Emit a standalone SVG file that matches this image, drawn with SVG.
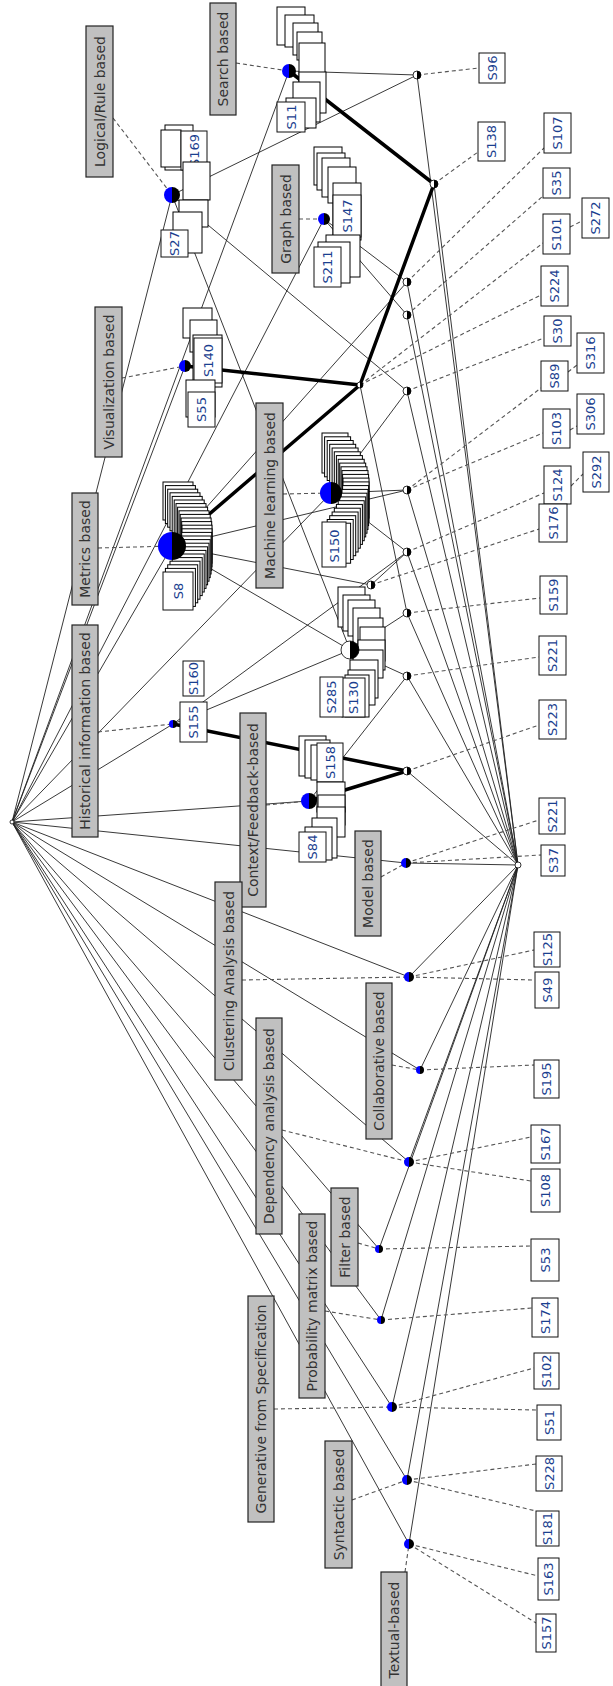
<svg xmlns="http://www.w3.org/2000/svg" width="613" height="1686" viewBox="0 0 613 1686">
<style>
.e{stroke:#222;stroke-width:.9;fill:none}
.k{stroke:#000;stroke-width:3.5;fill:none;stroke-linecap:round}
.d{stroke:#555;stroke-width:1.1;stroke-dasharray:4 3;fill:none}
.lb{fill:#c0c0c0;stroke:#222;stroke-width:1.2}
.lt{font-family:"DejaVu Sans",Verdana,sans-serif;font-size:14px;fill:#333;text-anchor:middle;dominant-baseline:central}
.ob{fill:#fff;stroke:#111;stroke-width:1}
.ot{font-family:"DejaVu Sans",sans-serif;font-size:13px;fill:#1b3f8f;text-anchor:middle;dominant-baseline:central}
.c{fill:#fff;stroke:#000;stroke-width:1}
.bl{fill:#0000ff}
.bk{fill:#000}
.wh{fill:#fff}
.ol{fill:none;stroke:#000;stroke-width:.8}
</style>
<g id="connectors">
<g id="edges-thin">
<line class="e" x1="12" y1="822" x2="289" y2="71"/>
<line class="e" x1="12" y1="822" x2="172" y2="195"/>
<line class="e" x1="12" y1="822" x2="324" y2="219"/>
<line class="e" x1="12" y1="822" x2="185" y2="366"/>
<line class="e" x1="12" y1="822" x2="172" y2="546"/>
<line class="e" x1="12" y1="822" x2="331" y2="493"/>
<line class="e" x1="12" y1="822" x2="173" y2="724"/>
<line class="e" x1="12" y1="822" x2="309" y2="801"/>
<line class="e" x1="12" y1="822" x2="406" y2="863"/>
<line class="e" x1="12" y1="822" x2="409" y2="977"/>
<line class="e" x1="12" y1="822" x2="420" y2="1070"/>
<line class="e" x1="12" y1="822" x2="409" y2="1162"/>
<line class="e" x1="12" y1="822" x2="379" y2="1249"/>
<line class="e" x1="12" y1="822" x2="381" y2="1320"/>
<line class="e" x1="12" y1="822" x2="392" y2="1407"/>
<line class="e" x1="12" y1="822" x2="407" y2="1480"/>
<line class="e" x1="12" y1="822" x2="409" y2="1544"/>
<line class="e" x1="289" y1="71" x2="417" y2="75"/>
<line class="e" x1="172" y1="195" x2="417" y2="75"/>
<line class="e" x1="172" y1="195" x2="407" y2="391"/>
<line class="e" x1="172" y1="195" x2="350" y2="650"/>
<line class="e" x1="324" y1="219" x2="407" y2="282"/>
<line class="e" x1="324" y1="219" x2="407" y2="315"/>
<line class="e" x1="172" y1="546" x2="407" y2="282"/>
<line class="e" x1="172" y1="546" x2="407" y2="490"/>
<line class="e" x1="172" y1="546" x2="371" y2="585"/>
<line class="e" x1="172" y1="546" x2="350" y2="650"/>
<line class="e" x1="331" y1="493" x2="407" y2="391"/>
<line class="e" x1="331" y1="493" x2="407" y2="490"/>
<line class="e" x1="331" y1="493" x2="407" y2="552"/>
<line class="e" x1="173" y1="724" x2="407" y2="552"/>
<line class="e" x1="173" y1="724" x2="350" y2="650"/>
<line class="e" x1="309" y1="801" x2="407" y2="676"/>
<line class="e" x1="350" y1="650" x2="407" y2="613"/>
<line class="e" x1="350" y1="650" x2="407" y2="676"/>
<line class="e" x1="360" y1="385" x2="407" y2="613"/>
<line class="e" x1="371" y1="585" x2="407" y2="552"/>
<line class="e" x1="417" y1="75" x2="518" y2="865"/>
<line class="e" x1="434" y1="184" x2="518" y2="865"/>
<line class="e" x1="407" y1="282" x2="518" y2="865"/>
<line class="e" x1="407" y1="315" x2="518" y2="865"/>
<line class="e" x1="407" y1="391" x2="518" y2="865"/>
<line class="e" x1="407" y1="490" x2="518" y2="865"/>
<line class="e" x1="407" y1="552" x2="518" y2="865"/>
<line class="e" x1="407" y1="613" x2="518" y2="865"/>
<line class="e" x1="407" y1="676" x2="518" y2="865"/>
<line class="e" x1="407" y1="771" x2="518" y2="865"/>
<line class="e" x1="406" y1="863" x2="518" y2="865"/>
<line class="e" x1="409" y1="977" x2="518" y2="865"/>
<line class="e" x1="420" y1="1070" x2="518" y2="865"/>
<line class="e" x1="409" y1="1162" x2="518" y2="865"/>
<line class="e" x1="379" y1="1249" x2="518" y2="865"/>
<line class="e" x1="381" y1="1320" x2="518" y2="865"/>
<line class="e" x1="392" y1="1407" x2="518" y2="865"/>
<line class="e" x1="407" y1="1480" x2="518" y2="865"/>
<line class="e" x1="409" y1="1544" x2="518" y2="865"/>
</g>
<g id="edges-thick">
<line class="k" x1="289" y1="71" x2="434" y2="184"/>
<line class="k" x1="434" y1="184" x2="360" y2="385"/>
<line class="k" x1="185" y1="366" x2="360" y2="385"/>
<line class="k" x1="172" y1="546" x2="360" y2="385"/>
<line class="k" x1="173" y1="724" x2="407" y2="771"/>
<line class="k" x1="309" y1="801" x2="407" y2="771"/>
</g>
<g id="edges-dashed">
<line class="d" x1="236" y1="63" x2="289" y2="71"/>
<line class="d" x1="113" y1="118" x2="172" y2="195"/>
<line class="d" x1="299" y1="219" x2="324" y2="219"/>
<line class="d" x1="122" y1="378" x2="185" y2="366"/>
<line class="d" x1="98" y1="548" x2="172" y2="546"/>
<line class="d" x1="283" y1="494" x2="331" y2="493"/>
<line class="d" x1="98" y1="732" x2="173" y2="724"/>
<line class="d" x1="266" y1="805" x2="309" y2="801"/>
<line class="d" x1="381" y1="877" x2="406" y2="863"/>
<line class="d" x1="242" y1="980" x2="409" y2="977"/>
<line class="d" x1="392" y1="1065" x2="420" y2="1070"/>
<line class="d" x1="282" y1="1130" x2="409" y2="1162"/>
<line class="d" x1="358" y1="1243" x2="379" y2="1249"/>
<line class="d" x1="325" y1="1311" x2="381" y2="1320"/>
<line class="d" x1="274" y1="1409" x2="392" y2="1407"/>
<line class="d" x1="352" y1="1500" x2="407" y2="1480"/>
<line class="d" x1="405" y1="1572" x2="409" y2="1544"/>
<line class="d" x1="417" y1="75" x2="479" y2="68"/>
<line class="d" x1="434" y1="184" x2="478" y2="152"/>
<line class="d" x1="407" y1="282" x2="544" y2="148"/>
<line class="d" x1="407" y1="315" x2="543" y2="196"/>
<line class="d" x1="360" y1="385" x2="543" y2="243"/>
<line class="d" x1="360" y1="385" x2="541" y2="295"/>
<line class="d" x1="570" y1="227" x2="582" y2="221"/>
<line class="d" x1="407" y1="391" x2="544" y2="338"/>
<line class="d" x1="407" y1="490" x2="541" y2="388"/>
<line class="d" x1="407" y1="490" x2="543" y2="433"/>
<line class="d" x1="568" y1="372" x2="577" y2="365"/>
<line class="d" x1="570" y1="430" x2="577" y2="426"/>
<line class="d" x1="407" y1="552" x2="544" y2="493"/>
<line class="d" x1="571" y1="486" x2="583" y2="474"/>
<line class="d" x1="371" y1="585" x2="539" y2="529"/>
<line class="d" x1="407" y1="613" x2="540" y2="598"/>
<line class="d" x1="407" y1="676" x2="539" y2="657"/>
<line class="d" x1="407" y1="771" x2="539" y2="725"/>
<line class="d" x1="406" y1="863" x2="539" y2="820"/>
<line class="d" x1="406" y1="863" x2="541" y2="855"/>
<line class="d" x1="409" y1="977" x2="534" y2="950"/>
<line class="d" x1="409" y1="977" x2="535" y2="980"/>
<line class="d" x1="420" y1="1070" x2="534" y2="1065"/>
<line class="d" x1="409" y1="1162" x2="531" y2="1137"/>
<line class="d" x1="409" y1="1162" x2="531" y2="1181"/>
<line class="d" x1="379" y1="1249" x2="531" y2="1246"/>
<line class="d" x1="381" y1="1320" x2="532" y2="1308"/>
<line class="d" x1="392" y1="1407" x2="534" y2="1368"/>
<line class="d" x1="392" y1="1407" x2="537" y2="1410"/>
<line class="d" x1="407" y1="1480" x2="536" y2="1464"/>
<line class="d" x1="407" y1="1480" x2="536" y2="1511"/>
<line class="d" x1="409" y1="1544" x2="538" y2="1576"/>
<line class="d" x1="409" y1="1544" x2="536" y2="1623"/>
</g>
</g>

<g id="n-top"><circle class="wh" cx="12" cy="822" r="2"/><circle class="ol" cx="12" cy="822" r="2"/></g>
<g id="n-bottom"><circle class="wh" cx="518" cy="865" r="3"/><circle class="ol" cx="518" cy="865" r="3"/></g>

<g id="n-search">
<rect class="c" x="277" y="7" width="28" height="38"/>
<rect class="c" x="285" y="15" width="29" height="32"/>
<rect class="c" x="293" y="23" width="25" height="32"/>
<rect class="c" x="297" y="32" width="25" height="28"/>
<rect class="c" x="299" y="43" width="26" height="40"/>
<rect class="c" x="299" y="72" width="27" height="41"/>
<rect class="c" x="293" y="82" width="27" height="40"/>
<rect class="c" x="286" y="98" width="30" height="30"/>
<rect class="ob" x="277" y="102" width="28" height="30"/>
<text class="ot" transform="translate(291 117) rotate(-90)">S11</text>
<path class="bl" d="M289 64A7 7 0 0 0 289 78Z"/><path class="bk" d="M289 64A7 7 0 0 1 289 78Z"/>
<rect class="lb" x="210" y="3" width="26" height="112"/>
<text class="lt" transform="translate(223 59) rotate(-90)">Search based</text>
</g>

<g id="n-logical">
<rect class="c" x="165" y="125" width="28" height="45"/>
<rect class="c" x="161" y="130" width="20" height="37"/>
<rect class="ob" x="181" y="131" width="26" height="39"/>
<text class="ot" transform="translate(194 150.5) rotate(-90)">S169</text>
<rect class="c" x="183" y="162" width="27" height="38"/>
<rect class="c" x="179" y="200" width="29" height="27"/>
<rect class="c" x="173" y="212" width="29" height="41"/>
<rect class="ob" x="161" y="230" width="27" height="27"/>
<text class="ot" transform="translate(174.5 243.5) rotate(-90)">S27</text>
<path class="bl" d="M172 187A8 8 0 0 0 172 203Z"/><path class="bk" d="M172 187A8 8 0 0 1 172 203Z"/>
<rect class="lb" x="86" y="26" width="27" height="151"/>
<text class="lt" transform="translate(99.5 101.5) rotate(-90)">Logical/Rule based</text>
</g>

<g id="n-graph">
<rect class="c" x="314" y="147" width="28" height="38"/>
<rect class="c" x="317" y="153" width="28" height="37"/>
<rect class="c" x="322" y="158" width="28" height="39"/>
<rect class="c" x="328" y="167" width="28" height="36"/>
<rect class="c" x="333" y="183" width="28" height="57"/>
<rect class="ob" x="333" y="195" width="28" height="42"/>
<text class="ot" transform="translate(347 216) rotate(-90)">S147</text>
<rect class="c" x="326" y="235" width="34" height="42"/>
<rect class="c" x="318" y="242" width="32" height="41"/>
<rect class="ob" x="314" y="247" width="27" height="40"/>
<text class="ot" transform="translate(327.5 267) rotate(-90)">S211</text>
<path class="bl" d="M324 213A6 6 0 0 0 324 225Z"/><path class="bk" d="M324 213A6 6 0 0 1 324 225Z"/>
<rect class="lb" x="272" y="165" width="27" height="108"/>
<text class="lt" transform="translate(285.5 219) rotate(-90)">Graph based</text>
</g>

<g id="n-visualization">
<rect class="c" x="183" y="308" width="29" height="30"/>
<rect class="c" x="190" y="320" width="27" height="32"/>
<rect class="c" x="193" y="335" width="29" height="52"/>
<rect class="ob" x="194" y="338" width="28" height="45"/>
<text class="ot" transform="translate(208 360.5) rotate(-90)">S140</text>
<rect class="c" x="186" y="380" width="29" height="37"/>
<rect class="ob" x="188" y="392" width="27" height="35"/>
<text class="ot" transform="translate(201.5 409.5) rotate(-90)">S55</text>
<path class="bl" d="M185 360A6 6 0 0 0 185 372Z"/><path class="bk" d="M185 360A6 6 0 0 1 185 372Z"/>
<rect class="lb" x="95" y="307" width="27" height="150"/>
<text class="lt" transform="translate(108.5 382) rotate(-90)">Visualization based</text>
</g>

<g id="n-metrics">
<rect class="c" x="163" y="482" width="30" height="38"/>
<rect class="c" x="165.4" y="485.6" width="30" height="38"/>
<rect class="c" x="167.7" y="489.2" width="30" height="38"/>
<rect class="c" x="170" y="492.8" width="30" height="38"/>
<rect class="c" x="172.2" y="496.4" width="30" height="38"/>
<rect class="c" x="174.2" y="500" width="30" height="38"/>
<rect class="c" x="176" y="503.6" width="30" height="38"/>
<rect class="c" x="177.6" y="507.2" width="30" height="38"/>
<rect class="c" x="179" y="510.8" width="30" height="38"/>
<rect class="c" x="180.2" y="514.4" width="30" height="38"/>
<rect class="c" x="181.1" y="518" width="30" height="38"/>
<rect class="c" x="181.7" y="521.6" width="30" height="38"/>
<rect class="c" x="182" y="525.2" width="30" height="38"/>
<rect class="c" x="182" y="528.8" width="30" height="38"/>
<rect class="c" x="181.7" y="532.4" width="30" height="38"/>
<rect class="c" x="181.1" y="536" width="30" height="38"/>
<rect class="c" x="180.2" y="539.6" width="30" height="38"/>
<rect class="c" x="179" y="543.2" width="30" height="38"/>
<rect class="c" x="177.6" y="546.8" width="30" height="38"/>
<rect class="c" x="176" y="550.4" width="30" height="38"/>
<rect class="c" x="174.2" y="554" width="30" height="38"/>
<rect class="c" x="172.2" y="557.6" width="30" height="38"/>
<rect class="c" x="170" y="561.2" width="30" height="38"/>
<rect class="c" x="167.7" y="564.8" width="30" height="38"/>
<rect class="c" x="165.4" y="568.4" width="30" height="38"/>
<rect class="ob" x="163" y="572" width="30" height="38"/>
<text class="ot" transform="translate(178 591) rotate(-90)">S8</text>
<path class="bl" d="M172 532A14 14 0 0 0 172 560Z"/><path class="bk" d="M172 532A14 14 0 0 1 172 560Z"/>
<rect class="lb" x="72" y="493" width="26" height="112"/>
<text class="lt" transform="translate(85 549) rotate(-90)">Metrics based</text>
</g>

<g id="n-machine-learning">
<rect class="c" x="322" y="433" width="26" height="40"/>
<rect class="c" x="324.6" y="436.8" width="26" height="40"/>
<rect class="c" x="327.2" y="440.5" width="26" height="40"/>
<rect class="c" x="329.7" y="444.3" width="26" height="40"/>
<rect class="c" x="332.1" y="448" width="26" height="40"/>
<rect class="c" x="334.3" y="451.8" width="26" height="40"/>
<rect class="c" x="336.4" y="455.6" width="26" height="40"/>
<rect class="c" x="338.2" y="459.3" width="26" height="40"/>
<rect class="c" x="339.7" y="463.1" width="26" height="40"/>
<rect class="c" x="341" y="466.8" width="26" height="40"/>
<rect class="c" x="342" y="470.6" width="26" height="40"/>
<rect class="c" x="342.6" y="474.4" width="26" height="40"/>
<rect class="c" x="343" y="478.1" width="26" height="40"/>
<rect class="c" x="343" y="481.9" width="26" height="40"/>
<rect class="c" x="342.6" y="485.6" width="26" height="40"/>
<rect class="c" x="342" y="489.4" width="26" height="40"/>
<rect class="c" x="341" y="493.2" width="26" height="40"/>
<rect class="c" x="339.7" y="496.9" width="26" height="40"/>
<rect class="c" x="338.2" y="500.7" width="26" height="40"/>
<rect class="c" x="336.4" y="504.4" width="26" height="40"/>
<rect class="c" x="334.3" y="508.2" width="26" height="40"/>
<rect class="c" x="332.1" y="512" width="26" height="40"/>
<rect class="c" x="329.7" y="515.7" width="26" height="40"/>
<rect class="c" x="327.2" y="519.5" width="26" height="40"/>
<rect class="c" x="324.6" y="523.2" width="26" height="40"/>
<rect class="ob" x="322" y="522" width="24" height="45"/>
<text class="ot" transform="translate(334 546) rotate(-90)">S150</text>
<path class="bl" d="M331 482A11 11 0 0 0 331 504Z"/><path class="bk" d="M331 482A11 11 0 0 1 331 504Z"/>
<rect class="lb" x="256" y="403" width="27" height="185"/>
<text class="lt" transform="translate(269.5 495.5) rotate(-90)">Machine learning based</text>
</g>

<g id="n-historical">
<rect class="ob" x="183" y="661" width="21" height="35"/>
<text class="ot" transform="translate(193.5 678.5) rotate(-90)">S160</text>
<rect class="ob" x="180" y="702" width="27" height="40"/>
<text class="ot" transform="translate(193.5 722) rotate(-90)">S155</text>
<path class="bl" d="M173 720A4 4 0 0 0 173 728Z"/><path class="bk" d="M173 720A4 4 0 0 1 173 728Z"/>
<rect class="lb" x="72" y="625" width="26" height="212"/>
<text class="lt" transform="translate(85 731) rotate(-90)">Historical information based</text>
</g>

<g id="n-hist-metrics-logical">
<rect class="c" x="338" y="587" width="27" height="40"/>
<rect class="c" x="343" y="595" width="27" height="36"/>
<rect class="c" x="348" y="600" width="27" height="36"/>
<rect class="c" x="353" y="608" width="27" height="36"/>
<rect class="c" x="358" y="618" width="25" height="36"/>
<rect class="c" x="360" y="627" width="25" height="34"/>
<rect class="c" x="358" y="640" width="27" height="30"/>
<rect class="c" x="353" y="650" width="30" height="28"/>
<rect class="c" x="350" y="660" width="28" height="38"/>
<rect class="c" x="348" y="670" width="27" height="35"/>
<rect class="c" x="345" y="675" width="24" height="42"/>
<rect class="ob" x="342" y="678" width="23" height="39"/>
<text class="ot" transform="translate(353.5 697.5) rotate(-90)">S130</text>
<rect class="ob" x="320" y="677" width="23" height="40"/>
<text class="ot" transform="translate(331.5 697) rotate(-90)">S285</text>
<path class="wh" d="M350 641A9 9 0 0 0 350 659Z"/><path class="bk" d="M350 641A9 9 0 0 1 350 659Z"/>
<circle class="ol" cx="350" cy="650" r="9"/>
</g>

<g id="n-context">
<rect class="c" x="299" y="736" width="27" height="40"/>
<rect class="c" x="305" y="740" width="25" height="38"/>
<rect class="c" x="311" y="745" width="22" height="35"/>
<rect class="ob" x="317" y="743" width="26" height="39"/>
<text class="ot" transform="translate(330 762.5) rotate(-90)">S158</text>
<rect class="c" x="317" y="782" width="28" height="30"/>
<rect class="c" x="318" y="795" width="27" height="30"/>
<rect class="c" x="317" y="807" width="28" height="30"/>
<rect class="c" x="312" y="818" width="25" height="40"/>
<rect class="c" x="305" y="827" width="27" height="33"/>
<rect class="ob" x="299" y="832" width="27" height="30"/>
<text class="ot" transform="translate(312.5 847) rotate(-90)">S84</text>
<path class="bl" d="M309 793A8 8 0 0 0 309 809Z"/><path class="bk" d="M309 793A8 8 0 0 1 309 809Z"/>
<rect class="lb" x="240" y="713" width="26" height="194"/>
<text class="lt" transform="translate(253 810) rotate(-90)">Context/Feedback-based</text>
</g>

<g id="n-model">
<path class="bl" d="M406 858A5 5 0 0 0 406 868Z"/><path class="bk" d="M406 858A5 5 0 0 1 406 868Z"/>
<rect class="lb" x="355" y="831" width="26" height="105"/>
<text class="lt" transform="translate(368 883.5) rotate(-90)">Model based</text>
</g>
<g id="n-clustering">
<path class="bl" d="M409 972A5 5 0 0 0 409 982Z"/><path class="bk" d="M409 972A5 5 0 0 1 409 982Z"/>
<rect class="lb" x="215" y="882" width="27" height="198"/>
<text class="lt" transform="translate(228.5 981) rotate(-90)">Clustering Analysis based</text>
</g>
<g id="n-collaborative">
<path class="bl" d="M420 1066A4 4 0 0 0 420 1074Z"/><path class="bk" d="M420 1066A4 4 0 0 1 420 1074Z"/>
<rect class="lb" x="366" y="983" width="26" height="156"/>
<text class="lt" transform="translate(379 1061) rotate(-90)">Collaborative based</text>
</g>
<g id="n-dependency">
<path class="bl" d="M409 1157A5 5 0 0 0 409 1167Z"/><path class="bk" d="M409 1157A5 5 0 0 1 409 1167Z"/>
<rect class="lb" x="256" y="1018" width="26" height="216"/>
<text class="lt" transform="translate(269 1126) rotate(-90)">Dependency analysis based</text>
</g>
<g id="n-filter">
<path class="bl" d="M379 1245A4 4 0 0 0 379 1253Z"/><path class="bk" d="M379 1245A4 4 0 0 1 379 1253Z"/>
<rect class="lb" x="331" y="1188" width="27" height="98"/>
<text class="lt" transform="translate(344.5 1237) rotate(-90)">Filter based</text>
</g>
<g id="n-probability">
<path class="bl" d="M381 1316A4 4 0 0 0 381 1324Z"/><path class="bk" d="M381 1316A4 4 0 0 1 381 1324Z"/>
<rect class="lb" x="299" y="1214" width="26" height="184"/>
<text class="lt" transform="translate(312 1306) rotate(-90)">Probability matrix based</text>
</g>
<g id="n-generative">
<path class="bl" d="M392 1402A5 5 0 0 0 392 1412Z"/><path class="bk" d="M392 1402A5 5 0 0 1 392 1412Z"/>
<rect class="lb" x="248" y="1296" width="26" height="226"/>
<text class="lt" transform="translate(261 1409) rotate(-90)">Generative from Specification</text>
</g>
<g id="n-syntactic">
<path class="bl" d="M407 1475A5 5 0 0 0 407 1485Z"/><path class="bk" d="M407 1475A5 5 0 0 1 407 1485Z"/>
<rect class="lb" x="325" y="1441" width="27" height="127"/>
<text class="lt" transform="translate(338.5 1504.5) rotate(-90)">Syntactic based</text>
</g>
<g id="n-textual">
<path class="bl" d="M409 1539A5 5 0 0 0 409 1549Z"/><path class="bk" d="M409 1539A5 5 0 0 1 409 1549Z"/>
<rect class="lb" x="381" y="1572" width="26" height="120"/>
<text class="lt" transform="translate(394 1630) rotate(-90)">Textual-based</text>
</g>

<g id="n-s96"><path class="wh" d="M417 71A4 4 0 0 0 417 79Z"/><path class="bk" d="M417 71A4 4 0 0 1 417 79Z"/><circle class="ol" cx="417" cy="75" r="4"/></g>
<g id="n-s138"><path class="wh" d="M434 180A4 4 0 0 0 434 188Z"/><path class="bk" d="M434 180A4 4 0 0 1 434 188Z"/><circle class="ol" cx="434" cy="184" r="4"/></g>
<g id="n-s107"><path class="wh" d="M407 278A4 4 0 0 0 407 286Z"/><path class="bk" d="M407 278A4 4 0 0 1 407 286Z"/><circle class="ol" cx="407" cy="282" r="4"/></g>
<g id="n-s35"><path class="wh" d="M407 311A4 4 0 0 0 407 319Z"/><path class="bk" d="M407 311A4 4 0 0 1 407 319Z"/><circle class="ol" cx="407" cy="315" r="4"/></g>
<g id="n-s101"><path class="wh" d="M360 382A3 3 0 0 0 360 388Z"/><path class="bk" d="M360 382A3 3 0 0 1 360 388Z"/><circle class="ol" cx="360" cy="385" r="3"/></g>
<g id="n-s30"><path class="wh" d="M407 387A4 4 0 0 0 407 395Z"/><path class="bk" d="M407 387A4 4 0 0 1 407 395Z"/><circle class="ol" cx="407" cy="391" r="4"/></g>
<g id="n-s89"><path class="wh" d="M407 486A4 4 0 0 0 407 494Z"/><path class="bk" d="M407 486A4 4 0 0 1 407 494Z"/><circle class="ol" cx="407" cy="490" r="4"/></g>
<g id="n-s124"><path class="wh" d="M407 548A4 4 0 0 0 407 556Z"/><path class="bk" d="M407 548A4 4 0 0 1 407 556Z"/><circle class="ol" cx="407" cy="552" r="4"/></g>
<g id="n-s176"><path class="wh" d="M371 581A4 4 0 0 0 371 589Z"/><path class="bk" d="M371 581A4 4 0 0 1 371 589Z"/><circle class="ol" cx="371" cy="585" r="4"/></g>
<g id="n-s159"><path class="wh" d="M407 609A4 4 0 0 0 407 617Z"/><path class="bk" d="M407 609A4 4 0 0 1 407 617Z"/><circle class="ol" cx="407" cy="613" r="4"/></g>
<g id="n-s221a"><path class="wh" d="M407 672A4 4 0 0 0 407 680Z"/><path class="bk" d="M407 672A4 4 0 0 1 407 680Z"/><circle class="ol" cx="407" cy="676" r="4"/></g>
<g id="n-s223"><path class="wh" d="M407 767A4 4 0 0 0 407 775Z"/><path class="bk" d="M407 767A4 4 0 0 1 407 775Z"/><circle class="ol" cx="407" cy="771" r="4"/></g>

<g id="objects">
<rect class="ob" x="479" y="53" width="26" height="30"/><text class="ot" transform="translate(492 68) rotate(-90)">S96</text>
<rect class="ob" x="478" y="122" width="27" height="39"/><text class="ot" transform="translate(491.5 141.5) rotate(-90)">S138</text>
<rect class="ob" x="544" y="113" width="27" height="40"/><text class="ot" transform="translate(557.5 133) rotate(-90)">S107</text>
<rect class="ob" x="543" y="168" width="27" height="30"/><text class="ot" transform="translate(556.5 183) rotate(-90)">S35</text>
<rect class="ob" x="582" y="198" width="27" height="40"/><text class="ot" transform="translate(595.5 218) rotate(-90)">S272</text>
<rect class="ob" x="543" y="214" width="27" height="40"/><text class="ot" transform="translate(556.5 234) rotate(-90)">S101</text>
<rect class="ob" x="541" y="266" width="27" height="40"/><text class="ot" transform="translate(554.5 286) rotate(-90)">S224</text>
<rect class="ob" x="544" y="316" width="27" height="30"/><text class="ot" transform="translate(557.5 331) rotate(-90)">S30</text>
<rect class="ob" x="577" y="333" width="27" height="40"/><text class="ot" transform="translate(590.5 353) rotate(-90)">S316</text>
<rect class="ob" x="541" y="361" width="27" height="30"/><text class="ot" transform="translate(554.5 376) rotate(-90)">S89</text>
<rect class="ob" x="577" y="394" width="27" height="40"/><text class="ot" transform="translate(590.5 414) rotate(-90)">S306</text>
<rect class="ob" x="543" y="409" width="27" height="39"/><text class="ot" transform="translate(556.5 428.5) rotate(-90)">S103</text>
<rect class="ob" x="583" y="452" width="26" height="40"/><text class="ot" transform="translate(596 472) rotate(-90)">S292</text>
<rect class="ob" x="544" y="466" width="27" height="38"/><text class="ot" transform="translate(557.5 485) rotate(-90)">S124</text>
<rect class="ob" x="539" y="504" width="28" height="38"/><text class="ot" transform="translate(553 523) rotate(-90)">S176</text>
<rect class="ob" x="540" y="576" width="27" height="38"/><text class="ot" transform="translate(553.5 595) rotate(-90)">S159</text>
<rect class="ob" x="539" y="636" width="27" height="39"/><text class="ot" transform="translate(552.5 655.5) rotate(-90)">S221</text>
<rect class="ob" x="539" y="700" width="27" height="39"/><text class="ot" transform="translate(552.5 719.5) rotate(-90)">S223</text>
<rect class="ob" x="539" y="798" width="26" height="36"/><text class="ot" transform="translate(552 816) rotate(-90)">S221</text>
<rect class="ob" x="541" y="845" width="24" height="31"/><text class="ot" transform="translate(553 860.5) rotate(-90)">S37</text>
<rect class="ob" x="534" y="932" width="26" height="35"/><text class="ot" transform="translate(547 949.5) rotate(-90)">S125</text>
<rect class="ob" x="535" y="972" width="24" height="36"/><text class="ot" transform="translate(547 990) rotate(-90)">S49</text>
<rect class="ob" x="534" y="1060" width="25" height="38"/><text class="ot" transform="translate(546.5 1079) rotate(-90)">S195</text>
<rect class="ob" x="531" y="1125" width="29" height="38"/><text class="ot" transform="translate(545.5 1144) rotate(-90)">S167</text>
<rect class="ob" x="531" y="1169" width="29" height="43"/><text class="ot" transform="translate(545.5 1190.5) rotate(-90)">S108</text>
<rect class="ob" x="531" y="1239" width="28" height="42"/><text class="ot" transform="translate(545 1260) rotate(-90)">S53</text>
<rect class="ob" x="532" y="1298" width="26" height="39"/><text class="ot" transform="translate(545 1317.5) rotate(-90)">S174</text>
<rect class="ob" x="534" y="1353" width="25" height="36"/><text class="ot" transform="translate(546.5 1371) rotate(-90)">S102</text>
<rect class="ob" x="537" y="1405" width="24" height="35"/><text class="ot" transform="translate(549 1422.5) rotate(-90)">S51</text>
<rect class="ob" x="536" y="1456" width="26" height="35"/><text class="ot" transform="translate(549 1473.5) rotate(-90)">S228</text>
<rect class="ob" x="536" y="1511" width="23" height="35"/><text class="ot" transform="translate(547.5 1528.5) rotate(-90)">S181</text>
<rect class="ob" x="538" y="1558" width="21" height="42"/><text class="ot" transform="translate(548.5 1579) rotate(-90)">S163</text>
<rect class="ob" x="536" y="1614" width="20" height="38"/><text class="ot" transform="translate(546 1633) rotate(-90)">S157</text>
</g>
</svg>
